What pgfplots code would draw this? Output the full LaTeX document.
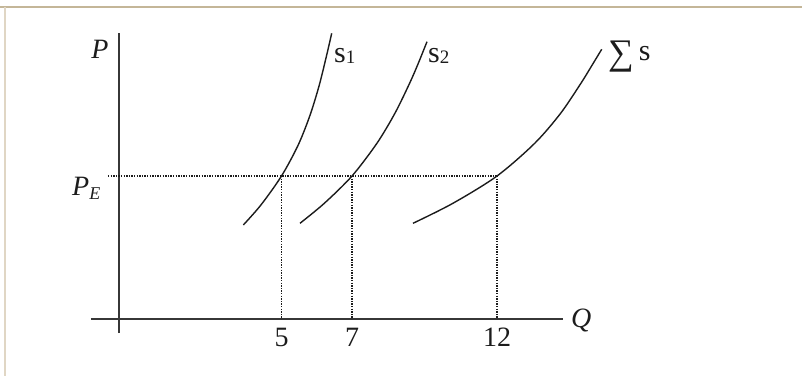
\documentclass[border=0pt]{standalone}
\usepackage{fontspec}
\setmainfont{Liberation Serif}
\usepackage{pgfplots}
\pgfplotsset{compat=1.18}
\definecolor{bordertan}{RGB}{196,182,152}
\definecolor{borderlight}{RGB}{224,214,196}
\definecolor{ink}{RGB}{28,28,28}
\begin{document}
\begin{tikzpicture}
\begin{axis}[
  x=1pt, y=1pt, xmin=-28, xmax=444, ymin=-14, ymax=286,
  axis lines=middle,
  axis line style={-, line width=1.8pt, color=ink!88},
  xtick={162.5,233,378}, xticklabels={5,7,12}, ytick=\empty,
  major tick length=0pt,
  xticklabel style={anchor=base, yshift=-27pt, font=\fontsize{28}{28}\selectfont, text=ink, inner sep=0pt},
  /pgf/number format/assume math mode=true,
  clip=false,
]
% frame of the reference image
\draw[bordertan, line width=2pt] (axis cs:-119,312) -- (axis cs:683,312);
\draw[borderlight, line width=1.2pt] (axis cs:-114,312) -- (axis cs:-114,-57);
% dotted guide lines
\addplot[ink, line width=1.6pt, dash pattern=on 1.4pt off 1.2pt] coordinates {(-11,143) (378,143)};
\addplot[ink, line width=1.6pt, dash pattern=on 1.4pt off 1.2pt] coordinates {(162.5,143) (162.5,0)};
\addplot[ink, line width=1.6pt, dash pattern=on 1.4pt off 1.2pt] coordinates {(233,143) (233,0)};
\addplot[ink, line width=1.6pt, dash pattern=on 1.4pt off 1.2pt] coordinates {(378,143) (378,0)};
% supply curves
\addplot[ink, line width=1.4pt, smooth] coordinates {(124.3,94) (141.9,114) (162.5,143) (179.2,174) (191.1,204) (200.3,234) (207.7,264) (212.7,285.7)};
\addplot[ink, line width=1.4pt, smooth] coordinates {(181,95.7) (205.3,115.7) (233,143) (257.9,175.7) (275.9,205.7) (290.6,235.7) (299.3,255.7) (308,277.3)};
\addplot[ink, line width=1.4pt, smooth] coordinates {(294,95.7) (333.9,115.7) (378,143) (415.7,175.7) (441.6,205.7) (461.9,235.7) (474.2,255.7) (482.7,269.7)};
% labels
\node[font=\fontsize{28}{28}\selectfont, text=ink] at (axis cs:-19,270) {\textit{P}};
\node[anchor=base west, font=\fontsize{28}{28}\selectfont, text=ink, inner sep=0pt] at (axis cs:452,-8) {\textit{Q}};
\node[anchor=base west, font=\fontsize{28}{28}\selectfont, text=ink, inner sep=0pt] at (axis cs:-47,124) {\textit{P}\raisebox{-4pt}{\fontsize{18}{18}\selectfont\textit{E}}};
\node[anchor=base west, font=\fontsize{30}{30}\selectfont, text=ink, inner sep=0pt] at (axis cs:215,257) {s\raisebox{-1pt}{\fontsize{19}{19}\selectfont 1}};
\node[anchor=base west, font=\fontsize{30}{30}\selectfont, text=ink, inner sep=0pt] at (axis cs:309,257) {s\raisebox{-1pt}{\fontsize{19}{19}\selectfont 2}};
\node[anchor=base west, font=\fontsize{30}{30}\selectfont, text=ink, inner sep=0pt] at (axis cs:489,259) {\raisebox{-4pt}{\fontsize{36}{36}\selectfont ∑}\,s};
\coordinate (BL) at (axis cs:-119,-57);
\coordinate (TR) at (axis cs:683,319);
\end{axis}
\pgfresetboundingbox
\useasboundingbox (BL) rectangle (TR);
\end{tikzpicture}
\end{document}
